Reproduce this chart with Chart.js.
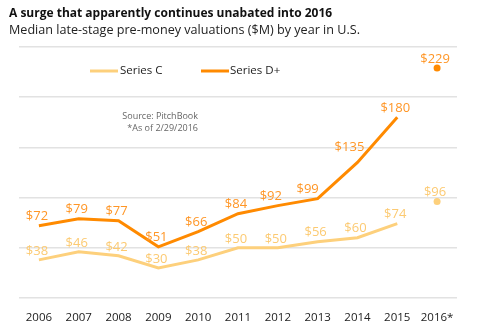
<!DOCTYPE html>
<html>
<head>
<meta charset="utf-8">
<script src="https://cdn.jsdelivr.net/npm/chart.js@4/dist/chart.umd.min.js"></script>
<style>
  html, body { margin: 0; padding: 0; background: #fff; }
  #wrap { width: 500px; height: 334px; position: relative; }
</style>
</head>
<body>
<div id="wrap"><canvas id="valuations"></canvas></div>
<script>
const years = ['2006', '2007', '2008', '2009', '2010', '2011', '2012', '2013', '2014', '2015', '2016*'];
const seriesC = [38, 46, 42, 30, 38, 50, 50, 56, 60, 74, 96];
const seriesD = [72, 79, 77, 51, 66, 84, 92, 99, 135, 180, 229];
const yTicks = [0, 50, 100, 150, 200, 250];

const colorC = '#fdd07c';
const colorD = '#ff8a00';
const labelC = '#fcca72';
const labelD = '#ff9626';
const FONT = '"Open Sans", sans-serif';

// 2016 is partial-year data: show it as a lone dot, not joined to the line
const lastIdx = years.length - 1;
const dotOnlyLast = years.map((_, i) => i === lastIdx ? 3.5 : 0);

// a few labels sit off-centre so they clear the steep part of the D+ line
const labelNudge = { '1-6': [-5, 0], '1-7': [-8, 0], '1-8': [-6, -6] };

const headerPlugin = {
  id: 'header',
  afterDraw(chart) {
    const ctx = chart.ctx;
    ctx.save();
    ctx.textBaseline = 'alphabetic';
    ctx.fillStyle = '#111';
    ctx.font = 'bold 12px ' + FONT;
    ctx.fillText('A surge that apparently continues unabated into 2016', 9, 17);
    ctx.font = '12.6px ' + FONT;
    ctx.fillStyle = '#222';
    ctx.fillText('Median late-stage pre-money valuations ($M) by year in U.S.', 9, 34);

    // legend
    ctx.lineWidth = 3;
    ctx.strokeStyle = colorC;
    ctx.beginPath(); ctx.moveTo(90, 71); ctx.lineTo(118, 71); ctx.stroke();
    ctx.strokeStyle = colorD;
    ctx.beginPath(); ctx.moveTo(201, 71); ctx.lineTo(229, 71); ctx.stroke();
    ctx.fillStyle = '#222';
    ctx.font = '11.5px ' + FONT;
    ctx.textBaseline = 'middle';
    ctx.fillText('Series C', 120, 71);
    ctx.fillText('Series D+', 230, 71);

    // source note
    ctx.font = '9px ' + FONT;
    ctx.fillStyle = '#666';
    ctx.textAlign = 'right';
    ctx.fillText('Source: PitchBook', 198, 116);
    ctx.fillText('*As of 2/29/2016', 198, 128);
    ctx.restore();
  }
};

const valueLabels = {
  id: 'valueLabels',
  afterDatasetsDraw(chart) {
    const ctx = chart.ctx;
    ctx.save();
    ctx.font = '13px ' + FONT;
    ctx.textAlign = 'center';
    ctx.textBaseline = 'middle';
    chart.data.datasets.forEach((ds, di) => {
      const meta = chart.getDatasetMeta(di);
      ctx.fillStyle = ds.labelColor;
      meta.data.forEach((pt, i) => {
        const [dx, dy] = labelNudge[di + '-' + i] || [0, 0];
        ctx.fillText('$' + ds.data[i], pt.x - 2 + dx, pt.y - 9 + dy);
      });
    });
    ctx.restore();
  }
};

new Chart(document.getElementById('valuations'), {
  type: 'line',
  data: {
    labels: years,
    datasets: [
      {
        label: 'Series C',
        data: seriesC,
        borderColor: colorC,
        backgroundColor: colorC,
        labelColor: labelC,
        borderWidth: 3,
        pointRadius: dotOnlyLast,
        pointBorderWidth: 0,
        tension: 0,
        segment: { borderColor: c => c.p1DataIndex === lastIdx ? 'transparent' : undefined }
      },
      {
        label: 'Series D+',
        data: seriesD,
        borderColor: colorD,
        backgroundColor: colorD,
        labelColor: labelD,
        borderWidth: 3,
        pointRadius: dotOnlyLast,
        pointBorderWidth: 0,
        tension: 0,
        segment: { borderColor: c => c.p1DataIndex === lastIdx ? 'transparent' : undefined }
      }
    ]
  },
  options: {
    responsive: true,
    maintainAspectRatio: false,
    animation: false,
    layout: { padding: { left: 19, right: 43, top: 47, bottom: 0 } },
    scales: {
      x: {
        offset: true,
        afterFit: axis => { axis.height = 36; },
        grid: { display: false, drawTicks: false },
        border: { display: false },
        ticks: { color: '#222', font: { family: FONT, size: 11.5 }, padding: 13, maxRotation: 0, autoSkip: false }
      },
      y: {
        min: 0,
        max: 250,
        afterBuildTicks: axis => { axis.ticks = yTicks.map(v => ({ value: v })); },
        grid: { color: '#e2e2e2', lineWidth: 1.5, drawTicks: false },
        border: { display: false },
        ticks: { display: false }
      }
    },
    plugins: {
      legend: { display: false },
      tooltip: { enabled: false }
    }
  },
  plugins: [headerPlugin, valueLabels]
});
</script>
</body>
</html>
